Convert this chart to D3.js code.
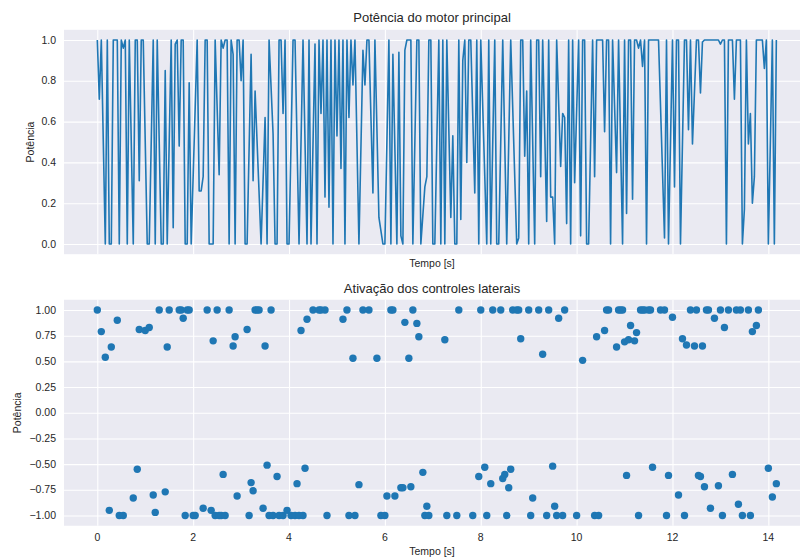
<!DOCTYPE html>
<html>
<head>
<meta charset="utf-8">
<script src="https://cdn.jsdelivr.net/npm/d3@7"></script>
<style>
  body { margin: 0; background: #fff; }
  svg { display: block; }
  text { font-family: "Liberation Sans", Arial, sans-serif; fill: #262626; }
</style>
</head>
<body>
<div id="chart"></div>
<script>
// simulation step length (s)
var DT = 1 / 24;

// main engine power, vertices (step index, value)
var powerStep = [0,1,2,4,5,6,7,8,10,11,12,13,14,15,16,18,19,20,21,22,23,25,26,28,29,30,32,33,34,35,37,38,39,40,41,42,43,44,45,46,47,50,51,52,53,54,55,56,58,59,61,62,63,64,65,66,67,68,69,70,71,72,73,74,75,77,78,79,82,84,85,86,88,89,90,91,92,93,94,95,96,98,99,101,103,105,106,107,109,110,111,112,113,114,115,116,117,118,119,120,121,122,123,124,125,126,127,128,129,131,133,134,135,136,138,139,141,143,144,146,147,148,150,151,152,153,154,155,157,158,160,161,162,164,165,166,167,168,169,171,172,173,174,175,177,178,179,180,181,182,183,184,185,186,187,189,190,191,192,195,196,197,199,200,201,203,205,207,210,211,212,213,214,215,216,217,219,220,221,222,223,225,226,227,228,229,230,232,233,234,235,236,237,238,239,241,242,243,244,245,246,248,249,250,253,254,255,256,257,258,260,261,263,264,265,266,267,268,269,270,271,272,273,274,275,276,281,284,285,286,288,289,290,291,292,294,295,296,297,298,300,301,302,303,304,311,312,313,314,315,316,318,319,320,322,323,324,325,326,327,328,329,330,333,334,335,336,338,339,340];
var powerValue = [1,0.71,1,0,1,0,0,1,1,0,1,0.96,1,0,1,0,1,1,0.31,1,1,0,0,1,0,1,0,0,0.85,0,1,0.08,0.98,1,0.48,1,1,0,0,0.79,0,1,0.26,0.26,0.33,1,1,0,0,1,0.34,1,0.96,1,1,0,1,0.93,0,1,1,0.8,1,0,0,0.93,0.31,0.75,0,0.62,0,1,0.54,0,0,1,1,0.64,1,0,0,1,1,0,1,0,1,0,0.98,0,1,0.64,1,0.23,1,0.18,1,0,1,0.53,1,0.37,1,0,1,0.62,1,0.78,1,0,0.95,0.78,1,1,0.25,1,0.13,0,0,1,0,0.93,0,0.94,0.04,0,0.95,1,1,0,1,1,0,0.28,0.33,1,1,0,0,1,0,1,0,1,0.13,0.53,0,0,1,0.12,0.9,1,0.4,1,1,0.25,1,0,1,0,1,0,1,0,0,1,0,1,0,0.03,1,1,0.43,0.75,0,1,0,1,1,0.33,1,0.11,1,0.23,0.23,0,1,0.38,0.64,0.62,0.1,1,0,1,0.3,1,0.04,1,1,0,0,1,0.33,1,1,0.55,1,1,0,1,0.35,1,0,1,0.15,1,1,0.22,1,1,0.96,1,0.87,1,0,1,1,0.03,1,0,1,0.28,1,1,0,1,1,0.56,1,0.49,1,1,0.74,0.99,1,1,0.98,1,1,0,1,1,0.71,1,1,0,0.17,1,0.49,0.64,0.2,0.33,1,1,0.86,1,0,1,0,1];

// lateral engine activation (only |value| > 0.5 shown)
var lateralStep = [0,2,4,6,7,10,11,13,18,20,21,24,26,28,29,31,34,35,36,41,42,43,44,45,46,48,49,53,55,57,58,59,60,61,62,63,64,66,68,69,70,75,76,77,78,79,80,81,83,84,85,86,87,88,90,91,93,95,97,99,100,101,102,103,104,105,108,111,112,114,115,123,125,126,128,129,131,133,136,140,142,144,145,147,148,149,152,153,154,156,157,158,160,161,163,164,165,166,174,175,180,181,188,191,192,194,195,197,198,202,203,204,205,206,207,208,210,211,212,216,217,218,221,223,225,226,228,229,230,231,233,234,240,243,249,250,251,254,255,256,260,261,262,263,264,265,266,267,269,270,271,272,273,274,276,277,278,282,284,285,286,288,291,293,294,295,297,299,300,301,302,303,304,305,306,307,309,311,312,313,314,316,318,320,321,322,323,326,327,328,330,331,336,338,340];
var lateralValue = [1,0.79,0.54,-0.95,0.64,0.9,-1,-1,-0.83,-0.55,0.81,0.8,0.83,-0.8,-0.97,1,-0.77,0.64,1,1,1,0.92,-1,1,1,-1,-1,-0.93,1,-0.95,0.7,-1,1,-1,-1,-0.6,-1,1,0.65,0.74,-0.81,0.81,-1,-0.68,-0.76,1,1,1,-0.93,0.65,-0.51,-1,1,-1,-0.62,-1,-1,-0.95,-1,-1,-0.69,-1,0.8,-1,-0.54,0.91,1,1,1,1,-1,0.91,1,-1,0.53,-1,-0.7,1,1,0.53,-1,-1,-0.81,1,1,-0.81,-0.73,-0.73,0.88,0.53,-0.72,1,0.87,0.74,-0.58,-1,-0.91,-1,0.71,-1,-1,1,-1,-0.62,1,-0.53,-1,-0.69,1,1,-0.64,-0.6,-1,-0.73,-0.55,1,1,1,0.72,1,-1,-0.83,1,0.57,-1,1,-0.52,-0.91,-1,0.92,-1,1,-1,0.51,-1,0.74,-1,0.8,1,1,0.64,1,1,1,0.69,-0.61,0.71,0.85,0.7,0.78,-1,1,1,1,1,1,-0.53,1,1,-1,-0.61,0.93,-0.8,0.72,-1,0.66,1,0.65,1,-0.61,-0.62,0.65,-0.72,1,1,-0.93,0.92,-0.71,1,-1,0.83,1,-0.6,1,-0.89,1,-1,1,-1,0.79,0.85,1,-0.54,-0.82,-0.69];

var xTicks = [0, 2, 4, 6, 8, 10, 12, 14];
var powerTicks = [0, 0.2, 0.4, 0.6, 0.8, 1.0];
var lateralTicks = [-1, -0.75, -0.5, -0.25, 0, 0.25, 0.5, 0.75, 1];

var W = 801, H = 558;
var left = 64, right = 800;
var blue = '#1f77b4';

var svg = d3.select('#chart').append('svg')
    .attr('width', W)
    .attr('height', H);

var x = d3.scaleLinear().domain([-0.695, 14.66]).range([left, right]);
var yTop = d3.scaleLinear().domain([-0.05, 1.05]).range([254.2, 29.8]);
var yBot = d3.scaleLinear().domain([-1.1, 1.1]).range([525.75, 299.75]);

function fmtMinus(s) { return s.replace('-', '\u2212'); }

// draws background, grid and tick labels for one panel
function panel(y, yTicks, yFmt, showX, title, titleY, xlabY, ylabX) {
    var g = svg.append('g');
    var r = y.range();
    g.append('rect')
        .attr('x', left).attr('y', r[1])
        .attr('width', right - left).attr('height', r[0] - r[1])
        .attr('fill', '#eaeaf2');
    g.append('g').call(d3.axisLeft(y).tickValues(yTicks).tickSize(-(right - left)).tickFormat(''))
        .attr('transform', 'translate(' + left + ',0)')
        .call(function (a) { a.select('.domain').remove(); a.selectAll('line').attr('stroke', '#fff').attr('stroke-width', 1.1); });
    g.append('g').call(d3.axisBottom(x).tickValues(xTicks).tickSize(-(r[0] - r[1])).tickFormat(''))
        .attr('transform', 'translate(0,' + r[0] + ')')
        .call(function (a) { a.select('.domain').remove(); a.selectAll('line').attr('stroke', '#fff').attr('stroke-width', 1.1); });

    g.selectAll('text.ytick')
        .data(yTicks)
        .enter().append('text')
        .attr('class', 'ytick')
        .attr('x', left - 8)
        .attr('y', function (d) { return y(d); })
        .attr('dy', '0.35em')
        .attr('text-anchor', 'end')
        .style('font-size', '10.5px')
        .text(function (d) { return fmtMinus(yFmt(d)); });

    if (showX) {
        g.selectAll('text.xtick')
            .data(xTicks)
            .enter().append('text')
            .attr('class', 'xtick')
            .attr('x', function (d) { return x(d); })
            .attr('y', r[0] + 15)
            .attr('text-anchor', 'middle')
            .style('font-size', '10.5px')
            .text(function (d) { return d; });
    }

    g.append('text')
        .attr('x', (left + right) / 2).attr('y', titleY)
        .attr('text-anchor', 'middle')
        .style('font-size', '13px')
        .text(title);
    g.append('text')
        .attr('x', (left + right) / 2).attr('y', xlabY)
        .attr('text-anchor', 'middle')
        .style('font-size', '10.5px')
        .text('Tempo [s]');
    g.append('text')
        .attr('transform', 'translate(' + ylabX + ',' + ((r[0] + r[1]) / 2) + ') rotate(-90)')
        .attr('text-anchor', 'middle')
        .attr('dy', '0.35em')
        .style('font-size', '10.5px')
        .text('Potência');
    return g;
}

panel(yTop, powerTicks, d3.format('.1f'), false, 'Potência do motor principal', 22, 267, 30);
panel(yBot, lateralTicks, d3.format('.2f'), true, 'Ativação dos controles laterais', 293, 555, 17);

// top: line of main engine power
var powerData = powerStep.map(function (s, i) { return [s * DT, powerValue[i]]; });
svg.append('path')
    .datum(powerData)
    .attr('fill', 'none')
    .attr('stroke', blue)
    .attr('stroke-width', 1.6)
    .attr('stroke-linejoin', 'round')
    .attr('d', d3.line()
        .x(function (d) { return x(d[0]); })
        .y(function (d) { return yTop(d[1]); }));

// bottom: scatter of lateral activation
var lateralData = lateralStep.map(function (s, i) { return [s * DT, lateralValue[i]]; });
svg.selectAll('circle.lat')
    .data(lateralData)
    .enter().append('circle')
    .attr('class', 'lat')
    .attr('cx', function (d) { return x(d[0]); })
    .attr('cy', function (d) { return yBot(d[1]); })
    .attr('r', 3.7)
    .attr('fill', blue);
</script>
</body>
</html>
